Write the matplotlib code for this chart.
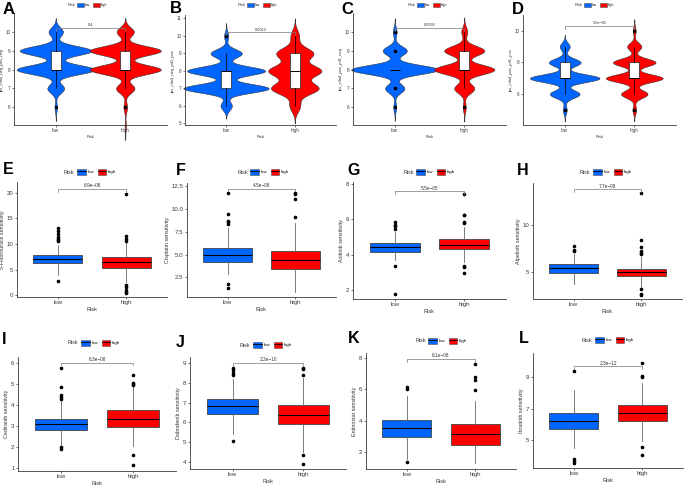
import numpy as np
import matplotlib
matplotlib.use('Agg')
import matplotlib.pyplot as plt
from matplotlib.patches import Patch
from matplotlib.lines import Line2D
from matplotlib import cbook

plt.rcParams['font.family'] = ['Liberation Sans', 'DejaVu Sans']

W, H = 685, 486
BLUE = '#0066FF'
RED = '#FF0000'
groups = ['low', 'high']

# ---- A-D: immunophenoscore, patients per score value
ips_scores = [5, 6, 7, 8, 9, 10]
ips_labels = ['ips_ctla4_neg_pd1_neg', 'ips_ctla4_neg_pd1_pos',
              'ips_ctla4_pos_pd1_neg', 'ips_ctla4_pos_pd1_pos']
ips_low = [
    [0, 2, 14, 65, 60, 12],
    [0, 8, 60, 55, 22, 3],
    [0, 3, 20, 90, 25, 4],
    [4, 30, 70, 32, 10, 0],
]
ips_high = [
    [1, 3, 15, 58, 58, 14],
    [0, 10, 45, 50, 35, 8],
    [0, 3, 20, 60, 40, 6],
    [4, 28, 60, 45, 15, 3],
]
ips_pvals = ['0.4', '0.0013', '0.0093', '5.5e\u221205']
ips_yticks = [[6, 7, 8, 9, 10], [5, 6, 7, 8, 9, 10, 11], [6, 7, 8, 9, 10], [6, 8, 10]]

# ---- E-L: drug sensitivity, [whisker low, q1, median, q3, whisker high]
drugs = ['5-Fluorouracil', 'Cisplatin', 'Axitinib', 'Alpelisib',
         'Cediranib', 'Dabrafenib', 'Entinostat', 'Ibrutinib']
box_low = [
    [3.9, 6.37, 7.0, 7.93, 9.9],
    [2.9, 4.2, 4.9, 5.66, 7.9],
    [3.7, 4.15, 4.41, 4.64, 5.3],
    [3.76, 4.89, 5.43, 5.81, 6.91],
    [2.1, 2.81, 3.08, 3.33, 4.22],
    [5.44, 6.42, 6.82, 7.18, 8.2],
    [1.55, 2.98, 3.55, 4.04, 5.56],
    [4.52, 5.74, 6.24, 6.73, 8.2],
]
box_high = [
    [2.6, 5.4, 6.5, 7.47, 10.4],
    [0.9, 3.45, 4.35, 5.44, 8.4],
    [3.6, 4.30, 4.53, 4.86, 5.57],
    [3.3, 4.53, 5.0, 5.38, 6.65],
    [2.05, 2.97, 3.35, 3.75, 4.85],
    [4.5, 5.91, 6.39, 6.87, 8.22],
    [1.35, 2.48, 3.18, 3.77, 5.27],
    [4.94, 6.24, 6.73, 7.25, 8.62],
]
out_low = [
    [2.8, 10.6, 10.8, 11.0, 11.4, 11.9, 12.5, 13.1],
    [1.8, 1.3, 8.3, 8.5, 8.7, 9.4, 11.7],
    [3.37, 1.79, 5.46, 5.6, 5.69, 5.82],
    [7.2, 7.37, 7.8],
    [2.0, 1.91, 4.3, 4.4, 4.5, 4.84, 5.79],
    [5.07, 8.39, 8.5, 8.63, 8.72],
    [1.4, 6.02, 6.17],
    [3.82, 3.7, 3.6, 9.35],
]
out_high = [
    [2.1, 1.6, 1.1, 0.65, 0.45, 10.6, 11.0, 11.5, 19.7],
    [9.1, 11.1, 11.6, 11.7],
    [3.37, 3.3, 2.95, 5.76, 5.85, 6.21, 6.25, 7.41],
    [3.2, 2.66, 2.6, 6.9, 7.0, 7.3, 7.66, 8.4, 13.4],
    [1.63, 1.11, 4.95, 5.0, 5.05, 5.45],
    [4.37, 3.9, 8.4, 8.7, 8.75],
    [5.93, 6.6, 6.8, 7.6],
    [4.58, 4.1, 9.0, 9.05, 9.88],
]
drug_pvals = ['6.9e\u221208', '4.5e\u221208', '5.5e\u221205', '7.7e\u221208',
              '6.3e\u221208', '2.2e\u221210', '6.1e\u221208', '2.3e\u221212']
drug_yticks = [[0, 5, 10, 15, 20], [2.5, 5.0, 7.5, 10.0, 12.5], [2, 4, 6, 8], [5, 10],
               [1, 2, 3, 4, 5, 6], [4, 5, 6, 7, 8, 9], [2, 4, 6, 8], [5, 7, 9]]

# ---- layout (pixels): axes box (left, top, right, bottom), ylim, bracket y
letters = list('ABCDEFGHIJKL')
ax_px = [(14, 13, 167, 125), (185, 15, 336, 125), (353, 13, 506, 125), (523, 15, 676, 125),
         (17, 182, 167, 297), (187, 183, 336, 297), (353, 182, 506, 299), (533, 183, 682, 299),
         (18, 357, 176, 471), (190, 357, 346, 469), (366, 353, 516, 469), (533, 353, 683, 468)]
ylims = [(5.06, 11.0), (4.9, 11.2), (5.06, 11.0), (4.04, 11.0),
         (-0.33, 22.1), (0.37, 12.8), (1.49, 8.1), (2.13, 14.5),
         (0.84, 6.3), (3.65, 9.3), (0.94, 8.3), (3.26, 10.5)]
brk_y = [10.2, 10.2, 10.2, 10.3, 20.7, 12.2, 7.58, 13.83, 6.03, 9.0, 7.92, 9.66]
letter_px = [(3, 2), (170, 1), (341, 2), (512, 2), (3, 162), (176, 163), (347, 163), (517, 163),
             (2, 332), (176, 335), (348, 331), (519, 331)]
legend_px = [(68, 5), (238, 5), (408, 5), (575, 5), (64, 172), (237, 172), (403, 172), (580, 172),
             (68, 343), (240, 345), (415, 341), (582, 340)]
violin_w = [1.12, 1.24, 1.25, 1.0]


def nrd0(x):
    hi = np.std(x, ddof=1)
    q75, q25 = np.percentile(x, [75, 25])
    lo = min(hi, (q75 - q25) / 1.34)
    if lo == 0:
        lo = hi
    return 0.9 * lo * len(x) ** -0.2


def kde(x, bw, grid):
    z = (grid[:, None] - x[None, :]) / bw
    return np.exp(-0.5 * z ** 2).sum(1) / (len(x) * bw * np.sqrt(2 * np.pi))


fig = plt.figure(figsize=(W / 100, H / 100), dpi=100)


def style_axes(ax, small):
    fs = 3.3 if small else 4.4
    for s in ['top', 'right']:
        ax.spines[s].set_visible(False)
    for s in ['left', 'bottom']:
        ax.spines[s].set_color('#3a3a3a')
        ax.spines[s].set_linewidth(0.6)
    ax.tick_params(length=1.5, width=0.5, pad=1, labelsize=fs, colors='#3a3a3a')
    ax.set_xlim(0.4, 2.6)
    ax.set_xticks([1, 2])
    ax.set_xticklabels(groups)
    ax.set_xlabel('Risk', fontsize=fs - 0.3, labelpad=0.8, color='#333333')


def bracket(ax, y, p, small):
    lo, hi = ax.get_ylim()
    tip = 0.025 * (hi - lo)
    ax.plot([1, 1, 2, 2], [y - tip, y, y, y - tip], color='#777777', lw=0.5)
    ax.text(1.5, y + 0.006 * (hi - lo), p, ha='center', va='bottom',
            fontsize=2.8 if small else 3.4, color='#333333')


def legend(x, y, small, boxkey):
    fs = 3.0 if small else 3.9
    fig.text(x / W, 1 - y / H, 'Risk', fontsize=fs, va='center', ha='left', color='#333333')
    handles = []
    for c in [BLUE, RED]:
        p = Patch(facecolor=c, edgecolor='#555555', lw=0.4)
        if boxkey:
            handles.append((p, Line2D([], [], color='black', lw=0.6)))
        else:
            handles.append(p)
    fig.legend(handles, groups, loc='center left',
               bbox_to_anchor=((x + (9 if small else 13)) / W, 1 - y / H),
               ncol=2, frameon=False, fontsize=fs * 0.8, handlelength=2.0,
               handleheight=1.5, handletextpad=0.4, columnspacing=0.9,
               borderpad=0, borderaxespad=0)


for k in range(12):
    l, t, r, b = ax_px[k]
    ax = fig.add_axes([l / W, 1 - b / H, (r - l) / W, (b - t) / H])
    ax.patch.set_alpha(0)
    small = k < 4
    colors = [BLUE, RED]
    if small:
        samples = [np.repeat(ips_scores, c).astype(float) for c in (ips_low[k], ips_high[k])]
        dens = []
        for s in samples:
            bw = nrd0(s)
            grid = np.linspace(s.min() - 3 * bw, s.max() + 3 * bw, 400)
            dens.append((grid, kde(s, bw, grid)))
        m = max(d.max() for _, d in dens)
        for i, (grid, d) in enumerate(dens):
            half = d / m * violin_w[k] / 2
            ax.fill_betweenx(grid, i + 1 - half, i + 1 + half, facecolor=colors[i],
                             edgecolor='#333333', lw=0.4, clip_on=False)
        stats = [cbook.boxplot_stats(s)[0] for s in samples]
        ax.bxp(stats, positions=[1, 2], widths=0.15, patch_artist=True, showcaps=False,
               manage_ticks=False,
               boxprops=dict(facecolor='white', edgecolor='#222222', lw=0.5),
               medianprops=dict(color='black', lw=0.7),
               whiskerprops=dict(color='black', lw=0.5),
               flierprops=dict(marker='o', ms=1.2, mfc='black', mec='black'))
        ax.set_yticks(ips_yticks[k])
        ax.set_ylabel(ips_labels[k], fontsize=3.0, labelpad=1.5, color='#333333')
    else:
        j = k - 4
        stats = []
        for bx, out in [(box_low[j], out_low[j]), (box_high[j], out_high[j])]:
            stats.append(dict(whislo=bx[0], q1=bx[1], med=bx[2], q3=bx[3], whishi=bx[4],
                              fliers=out))
        bp = ax.bxp(stats, positions=[1, 2], widths=0.72, patch_artist=True, showcaps=False,
                    manage_ticks=False,
                    boxprops=dict(edgecolor='#444444', lw=0.6),
                    medianprops=dict(color='black', lw=0.8),
                    whiskerprops=dict(color='#666666', lw=0.6),
                    flierprops=dict(marker='o', ms=1.6, mfc='black', mec='black'))
        for patch, c in zip(bp['boxes'], colors):
            patch.set_facecolor(c)
        ax.set_yticks(drug_yticks[j])
        if j == 1:
            ax.set_yticklabels(['%.1f' % v for v in drug_yticks[j]])
        ax.set_ylabel(drugs[j] + ' sensitivity', fontsize=3.9, labelpad=1.5, color='#333333')
    style_axes(ax, small)
    ax.set_ylim(*ylims[k])
    bracket(ax, brk_y[k], (ips_pvals + drug_pvals)[k], small)
    legend(*legend_px[k], small, not small)
    lx, ly = letter_px[k]
    fig.text(lx / W, 1 - ly / H, letters[k], fontsize=12 if small else 11.5,
             fontweight='bold', va='top', ha='left')

fig.savefig('out.png', dpi=100)
